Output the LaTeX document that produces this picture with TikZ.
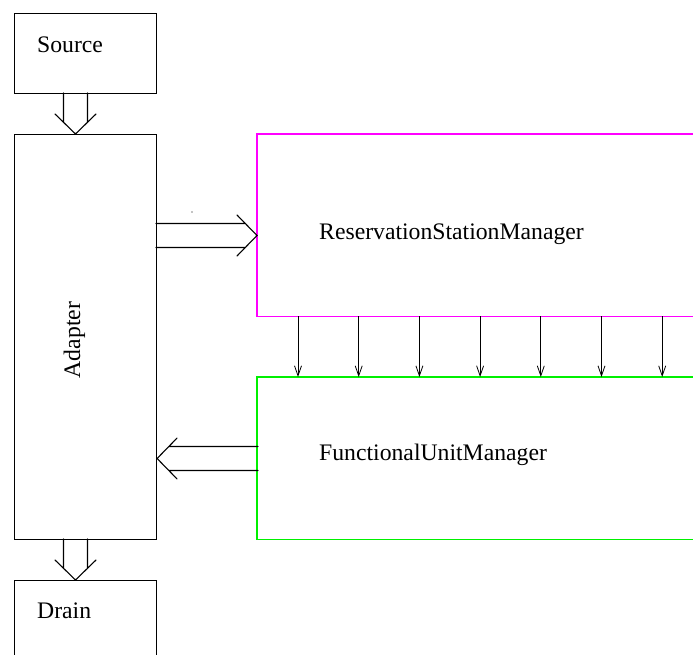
\documentclass[tikz,border=0pt]{standalone}
\usepackage{fontspec}
\setmainfont{Liberation Serif}
\usetikzlibrary{calc,arrows.meta}

\definecolor{rsmcolor}{RGB}{255,0,255}
\definecolor{fumcolor}{RGB}{0,240,0}

% Wide hollow arrow: apex at #1, pointing along angle #2, tail length #3
\newcommand\hollowarrow[3]{%
  \begin{scope}[shift={#1}, rotate=#2]
    \draw[flowline] (-#3,12) -- (-11.7,12) (-#3,-12) -- (-11.7,-12)
                    (-20,20.5) -- (0,0) -- (-20,-20.5);
  \end{scope}}

\begin{document}
\begin{tikzpicture}[x=1pt,y=-1pt,
  box/.style={draw, line width=1.1pt, inner sep=0pt, anchor=north west},
  area/.style={inner sep=0pt, anchor=north west},
  edge/.style={line width=1.6pt},
  label/.style={inner sep=0pt, anchor=base west, font=\fontsize{23.7}{28}\selectfont},
  flowline/.style={line width=1.1pt, line cap=round, line join=miter},
  signal/.style={line width=0.8pt, -{Straight Barb[length=10pt,width=7pt]}}]
  \useasboundingbox (0,0) rectangle (693,655);
  \clip (0,0) rectangle (693,655);
  \fill[white] (0,0) rectangle (693,655);

  % blocks
  \node[box, minimum width=142pt, minimum height=80pt]  (src)     at (14,13)  {};
  \node[box, minimum width=142pt, minimum height=405pt] (adapter) at (14,134) {};
  \node[box, minimum width=142pt, minimum height=100pt] (drain)   at (14,580) {};
  \node[area, minimum width=463pt, minimum height=182pt] (rsm) at (257,134) {};
  \node[area, minimum width=463pt, minimum height=162pt] (fum) at (257,377) {};
  \draw[edge, rsmcolor] (rsm.north east) -- (rsm.north west)
        -- (rsm.south west) -- (rsm.south east);
  \draw[edge, fumcolor] (fum.north east) -- (fum.north west)
        -- (fum.south west) -- (fum.south east);

  % labels
  \node[label] (srclabel)   at (37,53)   {Source};
  \node[label] (drainlabel) at (37,618)  {Drain};
  \node[label] (rsmlabel)   at (319,240) {ReservationStationManager};
  \node[label] (fumlabel)   at (319,460) {FunctionalUnitManager};
  \node[label, anchor=base, rotate=90] (adapterlabel) at (80,340) {Adapter};

  % wide data-flow arrows
  \hollowarrow{($(adapter.north west)+(61.5,0)$)}{-90}{41}
  \hollowarrow{($(drain.north west)+(61.5,0)$)}{-90}{41}
  \hollowarrow{($(rsm.north west)+(0,101.5)$)}{0}{101}
  \hollowarrow{($(adapter.north east)+(0,324.5)$)}{180}{101}

  % stray point
  \fill (192,212) circle (0.6);

  % signals from the reservation stations to the functional units
  \foreach \i in {0,...,6}{
    \pgfmathsetmacro\dx{41+60.7*\i}
    \draw[signal] ($(rsm.south west)+(\dx,0)$) -- ($(fum.north west)+(\dx,0)$);
  }
\end{tikzpicture}
\end{document}
